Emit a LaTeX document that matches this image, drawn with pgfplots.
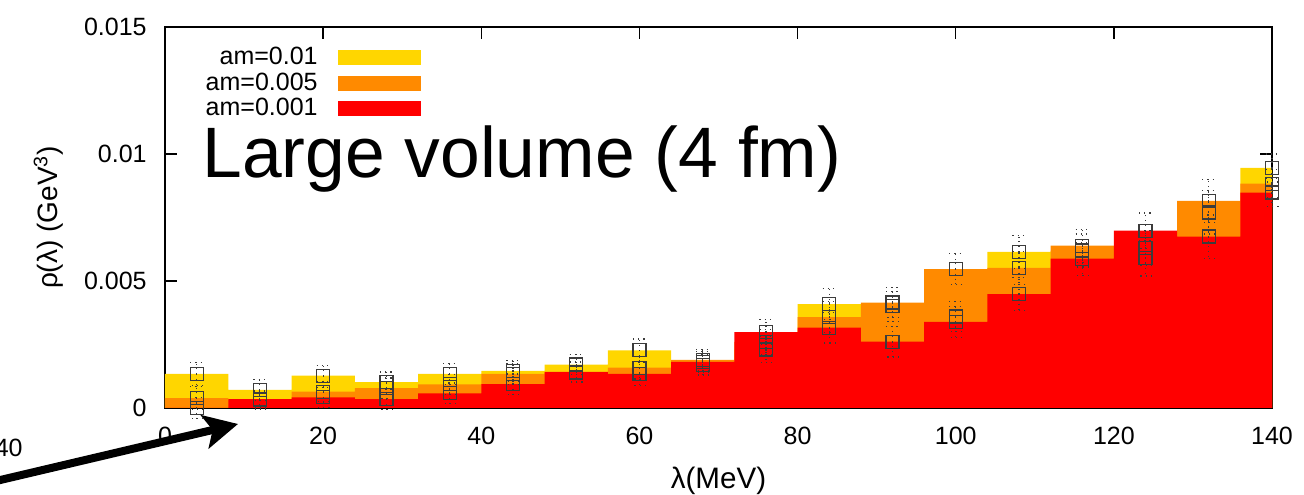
\documentclass[border=0pt]{standalone}
\usepackage{fontspec}
\setmainfont{Liberation Sans}
\usepackage{pgfplots}
\pgfplotsset{compat=1.18}
\usetikzlibrary{arrows.meta}

\definecolor{amY}{RGB}{255,214,0}
\definecolor{amO}{RGB}{255,138,0}
\definecolor{amR}{RGB}{255,0,0}
\definecolor{sq}{RGB}{60,60,60}

\newcommand{\tickfont}{\fontsize{12.5}{15}\selectfont}

\begin{document}
\begin{tikzpicture}
\begin{axis}[
    scale only axis,
    width=553.5pt, height=190.5pt,
    xmin=0, xmax=140, ymin=0, ymax=0.015,
    clip=false,
    xtick={0,20,40,60,80,100,120,140},
    xticklabels={0,20,40,60,80,100,120,140},
    ytick={0,0.005,0.01,0.015},
    yticklabels={0,0.005,0.01,0.015},
    scaled y ticks=false,
    tick align=inside,
    major tick length=6pt,
    tick style={line width=0.7pt, black},
    axis line style={line width=1pt},
    ticklabel style={font=\tickfont, inner sep=0pt},
    xticklabel style={yshift=-9.5pt},
    yticklabel style={xshift=-9pt},
    xlabel={λ(MeV)},
    ylabel={ρ(λ) (GeV\textsuperscript{3})},
    xlabel style={font=\fontsize{14.8}{17}\selectfont,
        at={(axis description cs:0.5,-0.1916)}, anchor=center},
    ylabel style={font=\fontsize{14}{17}\selectfont,
        at={(axis description cs:-0.105,0.5)}, anchor=center},
    legend plot pos=right,
    legend cell align=right,
    legend style={draw=none, fill=none, font=\tickfont,
        at={(rel axis cs:0.2313,0.9475)}, anchor=north east,
        inner sep=0pt, row sep=2.5pt, /tikz/column sep=10pt,
        nodes={inner sep=0pt}},
]
% am=0.01
\addplot[fill=amY, draw=none, const plot,
  legend image code/.code={\fill[amY] (0pt,-3.75pt) rectangle (41.5pt,3.75pt);}]
coordinates {
 (0,0.00134) (8,0.00071) (16,0.00127) (24,0.00102) (32,0.00134) (40,0.00146)
 (48,0.00171) (56,0.00227) (64,0.00170) (72,0.00230) (80,0.00409) (88,0.00400)
 (96,0.00360) (104,0.00615) (112,0.00620) (120,0.00590) (128,0.00770) (136,0.00945)
 (140,0.00945)} \closedcycle;
% am=0.005
\addplot[fill=amO, draw=none, const plot,
  legend image code/.code={\fill[amO] (0pt,-3.75pt) rectangle (41.5pt,3.75pt);}]
coordinates {
 (0,0.00039) (8,0.00030) (16,0.00064) (24,0.00078) (32,0.00093) (40,0.00134)
 (48,0.00140) (56,0.00159) (64,0.00189) (72,0.00260) (80,0.00358) (88,0.00415)
 (96,0.00547) (104,0.00552) (112,0.00639) (120,0.00630) (128,0.00815) (136,0.00883)
 (140,0.00883)} \closedcycle;
% am=0.001
\addplot[fill=amR, draw=none, const plot,
  legend image code/.code={\fill[amR] (0pt,-3.75pt) rectangle (41.5pt,3.75pt);}]
coordinates {
 (0,0.00000) (8,0.00035) (16,0.00042) (24,0.00035) (32,0.00058) (40,0.00094)
 (48,0.00142) (56,0.00134) (64,0.00182) (72,0.00299) (80,0.00316) (88,0.00261)
 (96,0.00339) (104,0.00448) (112,0.00588) (120,0.00698) (128,0.00675) (136,0.00848)
 (140,0.00848)} \closedcycle;
\legend{am=0.01, am=0.005, am=0.001}
% data points with error bars
\addplot[only marks, mark=square, mark size=3.25pt, draw=sq, line width=0.6pt,
  error bars/.cd, y dir=both, y explicit,
  error bar style={dotted, line width=0.6pt, sq},
  error mark options={rotate=90, mark size=3.25pt, dotted, line width=0.6pt, sq}]
coordinates {
 (4,0.00134) +- (0,0.00045) (4,0.00039) +- (0,0.00045) (4,0.00000) +- (0,0.00040)
 (12,0.00071) +- (0,0.00040) (12,0.00030) +- (0,0.00035) (12,0.00035) +- (0,0.00035)
 (20,0.00127) +- (0,0.00040) (20,0.00064) +- (0,0.00040) (20,0.00042) +- (0,0.00040)
 (28,0.00102) +- (0,0.00040) (28,0.00078) +- (0,0.00040) (28,0.00035) +- (0,0.00040)
 (36,0.00134) +- (0,0.00040) (36,0.00093) +- (0,0.00040) (36,0.00058) +- (0,0.00040)
 (44,0.00146) +- (0,0.00040) (44,0.00134) +- (0,0.00040) (44,0.00094) +- (0,0.00040)
 (52,0.00171) +- (0,0.00040) (52,0.00140) +- (0,0.00040) (52,0.00142) +- (0,0.00040)
 (60,0.00227) +- (0,0.00045) (60,0.00159) +- (0,0.00045) (60,0.00134) +- (0,0.00045)
 (68,0.00170) +- (0,0.00040) (68,0.00189) +- (0,0.00040) (68,0.00182) +- (0,0.00040)
 (76,0.00230) +- (0,0.00050) (76,0.00260) +- (0,0.00050) (76,0.00299) +- (0,0.00050)
 (84,0.00409) +- (0,0.00060) (84,0.00358) +- (0,0.00060) (84,0.00316) +- (0,0.00060)
 (92,0.00400) +- (0,0.00060) (92,0.00415) +- (0,0.00060) (92,0.00261) +- (0,0.00060)
 (100,0.00360) +- (0,0.00060) (100,0.00547) +- (0,0.00060) (100,0.00339) +- (0,0.00060)
 (108,0.00615) +- (0,0.00065) (108,0.00552) +- (0,0.00065) (108,0.00448) +- (0,0.00065)
 (116,0.00620) +- (0,0.00065) (116,0.00639) +- (0,0.00065) (116,0.00588) +- (0,0.00065)
 (124,0.00590) +- (0,0.00070) (124,0.00630) +- (0,0.00070) (124,0.00698) +- (0,0.00070)
 (132,0.00770) +- (0,0.00085) (132,0.00815) +- (0,0.00085) (132,0.00675) +- (0,0.00085)
 (140,0.00945) +- (0,0.00055) (140,0.00883) +- (0,0.00055) (140,0.00848) +- (0,0.00055)};
\coordinate (ll) at (rel axis cs:0,0);
\coordinate (ur) at (rel axis cs:1,1);
\end{axis}
\node[anchor=base west, inner sep=0pt, font=\fontsize{35.7}{40}\selectfont]
  at ([shift={(18.5pt,115pt)}]ll) {Large volume (4 fm)};
\node[anchor=east, inner sep=0pt, font=\tickfont] at ([shift={(-71pt,-20pt)}]ll) {40};
\draw[line width=4pt, -{Stealth[length=17pt, width=17pt, inset=4pt]}]
  ([shift={(-92.5pt,-38.4pt)}]ll) -- ([shift={(36.5pt,-8pt)}]ll);
\pgfresetboundingbox
\useasboundingbox ([shift={(-82.5pt,-43.5pt)}]ll) rectangle ([shift={(16pt,13.5pt)}]ur);
\end{tikzpicture}
\end{document}
